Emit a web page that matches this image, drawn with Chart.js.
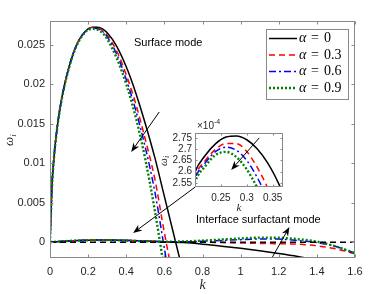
<!DOCTYPE html>
<html>
<head>
<meta charset="utf-8">
<script src="https://cdn.jsdelivr.net/npm/chart.js@4.4.0/dist/chart.umd.min.js"></script>
<style>
  html, body { margin: 0; padding: 0; background: #fff; }
  #wrap { position: relative; width: 392px; height: 294px; }
  #mainBox { position: absolute; left: 0; top: 0; width: 392px; height: 294px; }
  #insetBox { position: absolute; left: 150px; top: 112px; width: 140px; height: 102px; }
</style>
</head>
<body>
<div id="wrap">
  <div id="mainBox"><canvas id="main" width="392" height="294"></canvas></div>
  <div id="insetBox"><canvas id="inset" width="140" height="102"></canvas></div>
</div>
<script>
// valores de alpha (legenda)
const alphaLabels = ['0', '0.3', '0.6', '0.9'];

// modo de superficie
const kSurface = [0, 0.01, 0.02, 0.03, 0.05, 0.075, 0.1, 0.125, 0.15, 0.175, 0.2, 0.225, 0.25, 0.275, 0.3, 0.35, 0.4, 0.45, 0.5, 0.55, 0.6, 0.65, 0.7];
const surfA0  = [0, 0.0070, 0.0105, 0.0130, 0.0166, 0.0198, 0.0222, 0.0241, 0.0255, 0.0264, 0.0270, 0.0272, 0.0272, 0.0270, 0.0265, 0.0248, 0.0222, 0.0189, 0.0150, 0.0107, 0.0058, 0.0009, -0.0040];
const surfA03 = [0, 0.0070, 0.0105, 0.0130, 0.0166, 0.0198, 0.0222, 0.0241, 0.0255, 0.0264, 0.0270, 0.0272, 0.0271, 0.0268, 0.0262, 0.0242, 0.0212, 0.0175, 0.0130, 0.0080, 0.0012, -0.0050, -0.0110];
const surfA06 = [0, 0.0070, 0.0105, 0.0130, 0.0166, 0.0198, 0.0222, 0.0241, 0.0255, 0.0264, 0.0270, 0.0271, 0.0270, 0.0267, 0.0260, 0.0238, 0.0206, 0.0167, 0.0120, 0.0064, -0.0008, -0.0080, -0.0150];
const surfA09 = [0, 0.0069, 0.0104, 0.0129, 0.0165, 0.0197, 0.0221, 0.0240, 0.0254, 0.0263, 0.0269, 0.0270, 0.0269, 0.0265, 0.0257, 0.0233, 0.0200, 0.0158, 0.0105, 0.0040, -0.0035, -0.0110, -0.0180];

// modo de interface (unidades de 1e-4)
const kInterface = [0, 0.05, 0.1, 0.15, 0.2, 0.22, 0.24, 0.26, 0.28, 0.3, 0.32, 0.34, 0.36, 0.38, 0.4, 0.5, 0.6, 0.7, 0.8, 0.9, 1.0, 1.1, 1.2, 1.3, 1.4, 1.5, 1.6];
const intA0  = [0, 0.9, 1.6, 2.15, 2.598, 2.673, 2.725, 2.754, 2.759, 2.742, 2.702, 2.64, 2.555, 2.45, 2.32, 1.5, 0.6, -0.5, -2.5, -5, -7.8, -10.8, -14.2, -18, -22.5, -27, -32];
const intA03 = [0, 0.9, 1.6, 2.14, 2.58, 2.65, 2.70, 2.725, 2.725, 2.69, 2.62, 2.53, 2.42, 2.29, 2.14, 1.3, 0.6, 0.3, 0, -0.5, -1, -1.5, -2, -2.5, -4.5, -8.5, -14.5];
const intA06 = [0, 0.9, 1.6, 2.13, 2.57, 2.64, 2.69, 2.709, 2.695, 2.65, 2.575, 2.48, 2.36, 2.22, 2.05, 1.2, 0.6, 0.5, 1.2, 2.2, 3.2, 4.0, 3.9, 2.0, -0.3, -5.5, -14];
const intA09 = [0, 0.9, 1.6, 2.12, 2.555, 2.625, 2.675, 2.688, 2.665, 2.61, 2.53, 2.43, 2.31, 2.15, 1.95, 1.1, 0.7, 1.0, 2.0, 3.4, 4.7, 5.8, 5.6, 3.8, 0.8, -5.5, -14];
const interfaceScale = 1e-4;

// eixos
const xTicks = [0, 0.2, 0.4, 0.6, 0.8, 1, 1.2, 1.4, 1.6];
const yTicks = [0, 0.005, 0.01, 0.015, 0.02, 0.025];
const insetXTicks = [0.25, 0.3, 0.35];
const insetYTicks = [2.55, 2.6, 2.65, 2.7, 2.75];

// anotacoes (coordenadas de dados)
const mainArrows = [
  { from: [0.573, 0.01648], to: [0.426, 0.01142] },
  { from: [0.762, 0.00699], to: [0.436, 0.00116] },
  { from: [1.167, -0.00187], to: [1.256, 0.00192] }
];
const mainTexts = [
  { text: 'Surface mode', at: [0.62, 0.0252] },
  { text: 'Interface surfactant mode', at: [1.093, 0.00281] }
];
const insetArrow = { from: [0.324, 2.75], to: [0.27, 2.608] };

const styles = [
  { color: '#000000', dash: [], width: 1.5 },
  { color: '#ff0000', dash: [6, 4], width: 1.5 },
  { color: '#0000ff', dash: [7, 3, 2, 3], width: 1.5 },
  { color: '#008000', dash: [2, 2], width: 2.4 }
];

const axisColor = '#888888';
const textColor = '#262626';
Chart.defaults.font.family = "'Liberation Sans', Arial, sans-serif";
Chart.defaults.color = textColor;

function toPoints(xs, ys, scale) {
  return xs.map((x, i) => ({ x: x, y: ys[i] * (scale || 1) }));
}

function lineDataset(points, st, order) {
  return {
    data: points,
    showLine: true,
    pointRadius: 0,
    borderColor: st.color,
    borderDash: st.dash,
    borderWidth: st.width,
    backgroundColor: st.color,
    cubicInterpolationMode: 'monotone',
    fill: false,
    order: order
  };
}

function fmt(v) {
  return String(+v.toFixed(4));
}

function arrowHead(ctx, x1, y1, x2, y2) {
  const L = 9, W = 3.5;
  const dx = x2 - x1, dy = y2 - y1;
  const len = Math.hypot(dx, dy);
  const ux = dx / len, uy = dy / len;
  const nx = -uy, ny = ux;
  ctx.beginPath();
  ctx.moveTo(x1, y1);
  ctx.lineTo(x2 - ux * L * 0.6, y2 - uy * L * 0.6);
  ctx.stroke();
  ctx.beginPath();
  ctx.moveTo(x2, y2);
  ctx.lineTo(x2 - ux * L + nx * W, y2 - uy * L + ny * W);
  ctx.lineTo(x2 - ux * L * 0.7, y2 - uy * L * 0.7);
  ctx.lineTo(x2 - ux * L - nx * W, y2 - uy * L - ny * W);
  ctx.closePath();
  ctx.fill();
}

function drawFrame(chart, tickLen) {
  const ctx = chart.ctx;
  const a = chart.chartArea;
  const sx = chart.scales.x, sy = chart.scales.y;
  const l = Math.round(a.left) + 0.5, r = Math.round(a.right) - 0.5;
  const t = Math.round(a.top) + 0.5, b = Math.round(a.bottom) - 0.5;
  ctx.save();
  ctx.strokeStyle = axisColor;
  ctx.lineWidth = 1;
  ctx.setLineDash([]);
  ctx.strokeRect(l, t, r - l, b - t);
  ctx.beginPath();
  sx.ticks.forEach(tk => {
    const px = Math.round(sx.getPixelForValue(tk.value)) + 0.5;
    ctx.moveTo(px, b); ctx.lineTo(px, b - tickLen);
    ctx.moveTo(px, t); ctx.lineTo(px, t + tickLen);
  });
  sy.ticks.forEach(tk => {
    const py = Math.round(sy.getPixelForValue(tk.value)) + 0.5;
    ctx.moveTo(l, py); ctx.lineTo(l + tickLen, py);
    ctx.moveTo(r, py); ctx.lineTo(r - tickLen, py);
  });
  ctx.stroke();
  ctx.restore();
}

// grafico principal
const mainDatasets = [];
const surfSeries = [surfA0, surfA03, surfA06, surfA09];
const intSeries = [intA0, intA03, intA06, intA09];
mainDatasets.push(lineDataset([{ x: 0, y: 0 }, { x: 1.6, y: 0 }], { color: '#000000', dash: [6, 4], width: 1.5 }, 0));
for (let i = 0; i < 4; i++) {
  mainDatasets.push(lineDataset(toPoints(kSurface, surfSeries[i]), styles[i], 10 - i));
  mainDatasets.push(lineDataset(toPoints(kInterface, intSeries[i], interfaceScale), styles[i], 10 - i));
}

const mainPlugin = {
  id: 'mainDecor',
  afterDraw(chart) {
    const ctx = chart.ctx;
    const sx = chart.scales.x, sy = chart.scales.y;
    const a = chart.chartArea;
    drawFrame(chart, 3);

    ctx.save();
    // setas e textos
    ctx.strokeStyle = '#000';
    ctx.fillStyle = '#000';
    ctx.lineWidth = 1;
    mainArrows.forEach(ar => {
      arrowHead(ctx, sx.getPixelForValue(ar.from[0]), sy.getPixelForValue(ar.from[1]),
        sx.getPixelForValue(ar.to[0]), sy.getPixelForValue(ar.to[1]));
    });
    ctx.font = "11px 'Liberation Sans', Arial, sans-serif";
    ctx.textAlign = 'center';
    ctx.textBaseline = 'middle';
    mainTexts.forEach(tx => {
      ctx.fillText(tx.text, sx.getPixelForValue(tx.at[0]), sy.getPixelForValue(tx.at[1]));
    });

    // titulos dos eixos
    ctx.fillStyle = textColor;
    ctx.font = "italic 14px 'Liberation Serif', serif";
    ctx.fillText('k', (a.left + a.right) / 2, 285);
    ctx.translate(10, (a.top + a.bottom) / 2);
    ctx.rotate(-Math.PI / 2);
    ctx.textAlign = 'center';
    ctx.font = "italic 13px 'Liberation Serif', serif";
    ctx.fillText('\u03c9', -2, 0);
    ctx.font = "italic 9px 'Liberation Serif', serif";
    ctx.fillText('i', 4, 4);
    ctx.restore();

    // legenda
    ctx.save();
    const lx = 266.5, ly = 29.5, lw = 82, lh = 70;
    ctx.fillStyle = '#fff';
    ctx.fillRect(lx, ly, lw, lh);
    ctx.strokeStyle = axisColor;
    ctx.lineWidth = 1;
    ctx.strokeRect(lx, ly, lw, lh);
    const rows = [38.5, 55, 71.5, 88];
    for (let i = 0; i < 4; i++) {
      const st = styles[i];
      ctx.strokeStyle = st.color;
      ctx.lineWidth = st.width;
      ctx.setLineDash(st.dash);
      ctx.beginPath();
      ctx.moveTo(269, rows[i]);
      ctx.lineTo(297, rows[i]);
      ctx.stroke();
      ctx.setLineDash([]);
      ctx.fillStyle = '#000';
      ctx.textBaseline = 'middle';
      ctx.textAlign = 'left';
      ctx.font = "italic 14px 'Liberation Serif', serif";
      ctx.fillText('\u03b1', 299, rows[i]);
      ctx.font = "14px 'Liberation Serif', serif";
      ctx.fillText('=', 311, rows[i]);
      ctx.fillText(alphaLabels[i], 324, rows[i]);
    }
    ctx.restore();
  }
};

new Chart(document.getElementById('main'), {
  type: 'scatter',
  data: { datasets: mainDatasets },
  plugins: [mainPlugin],
  options: {
    responsive: false,
    animation: false,
    layout: { padding: { left: 0, top: 21, right: 37, bottom: 0 } },
    plugins: { legend: { display: false }, tooltip: { enabled: false } },
    scales: {
      x: {
        type: 'linear', min: 0, max: 1.6,
        afterBuildTicks: s => { s.ticks = xTicks.map(v => ({ value: v })); },
        afterFit: s => { s.height = 36; },
        ticks: { callback: v => fmt(v), font: { size: 11 }, padding: 7, maxRotation: 0, autoSkip: false },
        grid: { display: false, drawTicks: false },
        border: { display: false }
      },
      y: {
        type: 'linear', min: -0.002, max: 0.028,
        afterBuildTicks: s => { s.ticks = yTicks.map(v => ({ value: v })); },
        afterFit: s => { s.width = 50; },
        ticks: { callback: v => fmt(v), font: { size: 11 }, padding: 5, autoSkip: false },
        grid: { display: false, drawTicks: false },
        border: { display: false }
      }
    }
  }
});

// grafico inserido
const insetDatasets = [];
for (let i = 0; i < 4; i++) {
  insetDatasets.push(lineDataset(toPoints(kInterface, intSeries[i]), styles[i], 10 - i));
}

const insetPlugin = {
  id: 'insetDecor',
  beforeDraw(chart) {
    const a = chart.chartArea;
    chart.ctx.save();
    chart.ctx.fillStyle = '#fff';
    chart.ctx.fillRect(a.left, a.top, a.right - a.left, a.bottom - a.top);
    chart.ctx.restore();
  },
  afterDraw(chart) {
    const ctx = chart.ctx;
    const sx = chart.scales.x, sy = chart.scales.y;
    const a = chart.chartArea;
    drawFrame(chart, 2);
    ctx.save();
    ctx.strokeStyle = '#000';
    ctx.fillStyle = '#000';
    ctx.lineWidth = 1;
    arrowHead(ctx, sx.getPixelForValue(insetArrow.from[0]), sy.getPixelForValue(insetArrow.from[1]),
      sx.getPixelForValue(insetArrow.to[0]), sy.getPixelForValue(insetArrow.to[1]));
    ctx.fillStyle = textColor;
    ctx.textBaseline = 'alphabetic';
    ctx.textAlign = 'left';
    ctx.font = "10px 'Liberation Sans', Arial, sans-serif";
    ctx.fillText('\u00d710', a.left + 2, a.top - 4);
    ctx.font = "7px 'Liberation Sans', Arial, sans-serif";
    ctx.fillText('-4', a.left + 19, a.top - 9);
    ctx.textAlign = 'center';
    ctx.textBaseline = 'middle';
    ctx.font = "italic 11px 'Liberation Serif', serif";
    ctx.fillText('k', (a.left + a.right) / 2, 96);
    ctx.translate(14, (a.top + a.bottom) / 2);
    ctx.rotate(-Math.PI / 2);
    ctx.font = "italic 11px 'Liberation Serif', serif";
    ctx.fillText('\u03c9', -2, 0);
    ctx.font = "italic 8px 'Liberation Serif', serif";
    ctx.fillText('i', 3, 3);
    ctx.restore();
  }
};

new Chart(document.getElementById('inset'), {
  type: 'scatter',
  data: { datasets: insetDatasets },
  plugins: [insetPlugin],
  options: {
    responsive: false,
    animation: false,
    layout: { padding: { left: 0, top: 21, right: 7, bottom: 0 } },
    plugins: { legend: { display: false }, tooltip: { enabled: false } },
    scales: {
      x: {
        type: 'linear', min: 0.2, max: 0.37,
        afterBuildTicks: s => { s.ticks = insetXTicks.map(v => ({ value: v })); },
        afterFit: s => { s.height = 27; },
        ticks: { callback: v => fmt(v), font: { size: 10 }, padding: 5, maxRotation: 0, autoSkip: false },
        grid: { display: false, drawTicks: false },
        border: { display: false }
      },
      y: {
        type: 'linear', min: 2.532, max: 2.772,
        afterBuildTicks: s => { s.ticks = insetYTicks.map(v => ({ value: v })); },
        afterFit: s => { s.width = 45; },
        ticks: { callback: v => fmt(v), font: { size: 10 }, padding: 3, autoSkip: false },
        grid: { display: false, drawTicks: false },
        border: { display: false }
      }
    }
  }
});
</script>
</body>
</html>
